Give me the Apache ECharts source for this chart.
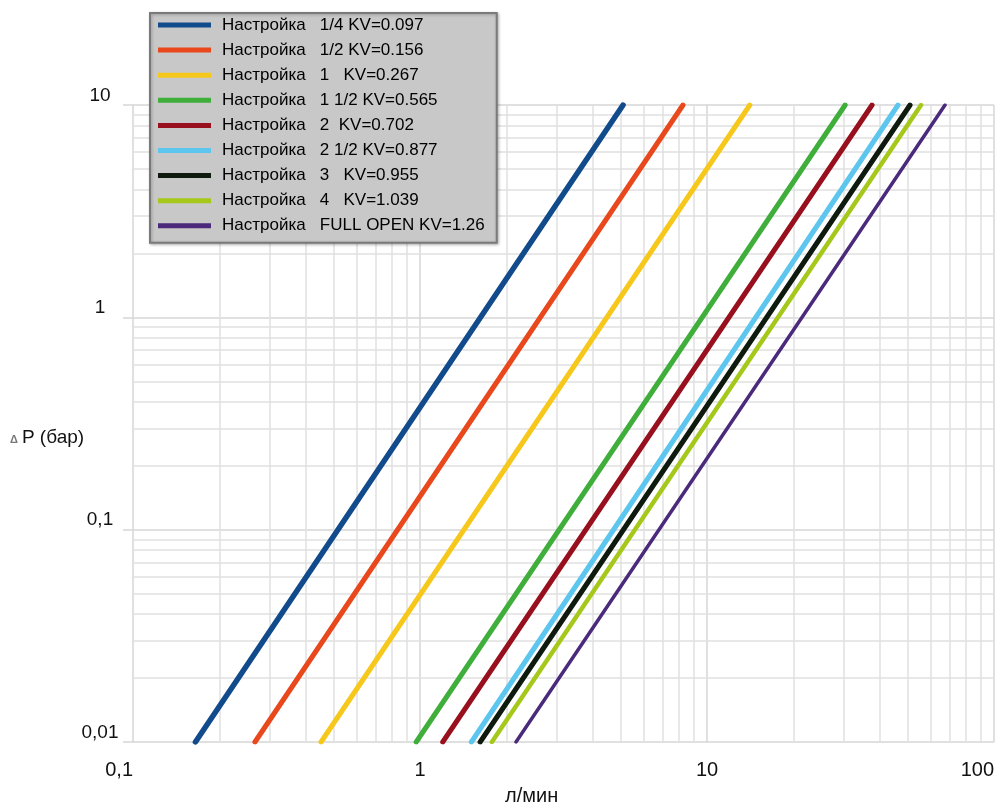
<!DOCTYPE html>
<html>
<head>
<meta charset="utf-8">
<script src="https://cdn.jsdelivr.net/npm/echarts@6/dist/echarts.min.js"></script>
<style>html,body{margin:0;padding:0;background:#fff;overflow:hidden}#c{width:1004px;height:807px}</style>
</head>
<body>
<div id="c"></div>
<script>
// ---- data ----
const seriesNames = [
  'Настройка   1/4 KV=0.097',
  'Настройка   1/2 KV=0.156',
  'Настройка   1   KV=0.267',
  'Настройка   1 1/2 KV=0.565',
  'Настройка   2  KV=0.702',
  'Настройка   2 1/2 KV=0.877',
  'Настройка   3   KV=0.955',
  'Настройка   4   KV=1.039',
  'Настройка   FULL OPEN KV=1.26'
];
// flow (л/мин) read at ΔP = 0.01 бар and at ΔP = 10 бар
const flowAtLowDp  = [0.165, 0.266, 0.452, 0.97, 1.20, 1.51, 1.62, 1.78, 2.16];
const flowAtHighDp = [5.10, 8.25, 14.1, 30.3, 37.6, 46.3, 51.0, 55.7, 67.5];
const dpRange = [0.01, 10];
const xTicks = [0.1, 1, 10, 100];
const xTickLabels = ['0,1', '1', '10', '100'];
const yTicks = [0.01, 0.1, 1, 10];
const yTickLabels = ['0,01', '0,1', '1', '10'];

// ---- styles ----
const colors = ['#124b8c', '#e8481c', '#f7c81c', '#3fae3a', '#98101e', '#5cc6ee', '#0e1a0e', '#a5c81a', '#4b2a7c'];
const widths = [5.5, 5, 5, 5, 5, 5, 5, 4.5, 3.5];
const FONT = '"Liberation Sans", Arial, sans-serif';

function labelFor(ticks, labels) {
  return function (v) {
    for (let i = 0; i < ticks.length; i++) {
      if (Math.abs(Math.log10(v) - Math.log10(ticks[i])) < 1e-6) return labels[i];
    }
    return '';
  };
}

// minor grid positions (2..9 × 10^n)
function minorPositions(lo, hi) {
  const out = [];
  for (let d = lo; d < hi - 1e-9; d *= 10) {
    for (let k = 2; k <= 9; k++) out.push(+(d * k).toPrecision(3));
  }
  return out;
}
const xMinor = minorPositions(0.1, 100);
const yMinor = minorPositions(0.01, 10);

const series = seriesNames.map((name, i) => ({
  name: name,
  type: 'line',
  data: [[flowAtLowDp[i], dpRange[0]], [flowAtHighDp[i], dpRange[1]]],
  showSymbol: false,
  symbol: 'none',
  z: 3,
  lineStyle: { color: colors[i], width: widths[i], cap: 'round' },
  itemStyle: { color: colors[i] },
  emphasis: { disabled: true },
  animation: false
}));

series.unshift({
  name: '_grid',
  type: 'line',
  data: [],
  z: 1,
  silent: true,
  animation: false,
  markLine: {
    silent: true,
    z: 1,
    symbol: ['none', 'none'],
    animation: false,
    label: { show: false },
    emphasis: { disabled: true },
    lineStyle: { color: '#e0e0e0', width: 1.5, type: 'solid' },
    data: xMinor.map(v => ({ xAxis: v })).concat(yMinor.map(v => ({ yAxis: v })))
  }
});

const chart = echarts.init(document.getElementById('c'), null, { renderer: 'canvas', width: 1004, height: 807 });
chart.setOption({
  backgroundColor: '#ffffff',
  animation: false,
  textStyle: { fontFamily: FONT },
  grid: { left: 133, right: 10, top: 105, bottom: 65, containLabel: false },
  legend: {
    data: seriesNames,
    orient: 'vertical',
    left: 150,
    top: 13,
    z: 10,
    icon: 'rect',
    itemWidth: 53,
    itemHeight: 5,
    itemGap: 7.1,
    padding: [3, 12, 8, 8],
    backgroundColor: '#c8c8c8',
    borderColor: '#7a7a7a',
    borderWidth: 2,
    shadowColor: 'rgba(0,0,0,0.25)',
    shadowBlur: 3,
    shadowOffsetX: 1,
    shadowOffsetY: 1,
    selectedMode: false,
    textStyle: { fontFamily: FONT, fontSize: 17, color: '#000', lineHeight: 18, padding: [0, 0, 0, 6] }
  },
  xAxis: {
    type: 'log',
    logBase: 10,
    min: 0.1,
    max: 100,
    axisLine: { show: false },
    axisTick: { show: false },
    splitLine: { show: true, lineStyle: { color: '#d6d6d6', width: 1.5 } },
    axisLabel: {
      formatter: labelFor(xTicks, xTickLabels),
      fontFamily: FONT,
      fontSize: 20,
      color: '#111',
      margin: 18,
      alignMinLabel: 'right',
      alignMaxLabel: 'right'
    }
  },
  yAxis: {
    type: 'log',
    logBase: 10,
    min: 0.01,
    max: 10,
    axisLine: { show: false },
    axisTick: { show: true, length: 10, lineStyle: { color: '#d6d6d6', width: 1.5 } },
    splitLine: { show: true, lineStyle: { color: '#d6d6d6', width: 1.5 } },
    axisLabel: {
      formatter: labelFor(yTicks, yTickLabels),
      fontFamily: FONT,
      fontSize: 19,
      color: '#111',
      margin: 33,
      align: 'center',
      verticalAlign: 'bottom'
    }
  },
  graphic: [
    {
      type: 'text',
      left: 505,
      top: 786,
      style: { text: 'л/мин', font: '20px ' + FONT, fill: '#111' }
    },
    {
      type: 'text',
      left: 10,
      top: 428,
      style: {
        text: '{d|Δ}{t|P (бар)}',
        rich: {
          d: { font: 'bold 11px ' + FONT, fill: '#777', padding: [4, 4, 0, 0] },
          t: { font: '19px ' + FONT, fill: '#111' }
        }
      }
    }
  ],
  series: series
});
</script>
</body>
</html>
